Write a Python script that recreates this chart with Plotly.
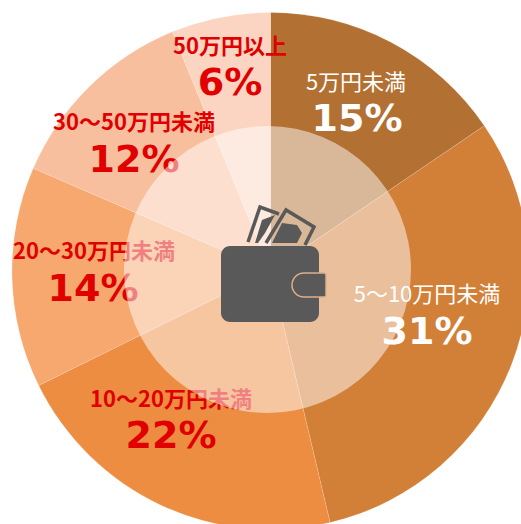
import plotly.graph_objects as go

categories = ["5万円未満", "5～10万円未満", "10～20万円未満", "20～30万円未満", "30～50万円未満", "50万円以上"]
shares = [15.5, 30.8, 21.4, 13.8, 12.3, 6.2]
pct_labels = ["15%", "31%", "22%", "14%", "12%", "6%"]
slice_colors = ["#b37033", "#d27f38", "#ec8d42", "#f7a86e", "#f8bf9f", "#fbd5c2"]
text_colors = ["#ffffff", "#ffffff", "#e00000", "#e00000", "#e00000", "#e00000"]
label_weight = ["normal", "normal", "bold", "bold", "bold", "bold"]
label_pos = [(356, 80), (427, 292), (171, 397), (94, 249), (134, 120), (230, 44)]
pct_pos = [(357, 118), (427, 331), (171, 435), (93, 288), (134, 159), (230, 82)]

W, H = 540, 540
CX, CY, R = 270.5, 271, 258.5
LABEL_FONT = "Noto Sans CJK JP"
PCT_FONT = "DejaVu Sans"
LABEL_SIZE = 22
PCT_SIZE = 38


def px(x):
    return x / W


def py(y):
    return 1 - y / H


def text_pie(text, pos, color, font):
    d = 6
    return go.Pie(
        values=[1], text=[text], textinfo="text", textposition="inside",
        insidetextorientation="horizontal", sort=False,
        marker=dict(colors=["rgba(0,0,0,0)"], line=dict(width=0)),
        textfont=dict(size=LABEL_SIZE, color=color, family=font),
        domain=dict(x=[px(pos[0] - d), px(pos[0] + d)], y=[py(pos[1] + d), py(pos[1] - d)]),
        hoverinfo="skip", showlegend=False,
    )


fig = go.Figure()
fig.add_trace(go.Pie(
    labels=categories, values=shares, sort=False, direction="clockwise", rotation=0,
    textinfo="none", hoverinfo="label+percent",
    marker=dict(colors=slice_colors, line=dict(color="rgba(255,255,255,0.3)", width=0.5)),
    domain=dict(x=[px(CX - R), px(CX + R)], y=[py(CY + R), py(CY - R)]),
    showlegend=False,
))
for i, cat in enumerate(categories):
    t = f"<b>{cat}</b>" if label_weight[i] == "bold" else cat
    fig.add_trace(text_pie(t, label_pos[i], text_colors[i], LABEL_FONT))
    fig.add_trace(text_pie(f'<b><span style="font-size:{PCT_SIZE}px">{pct_labels[i]}</span></b>', pct_pos[i], text_colors[i], PCT_FONT))


def path(points, close=True):
    s = "M " + " L ".join(f"{px(x):.5f},{py(y):.5f}" for x, y in points)
    return s + (" Z" if close else "")


def rrect(x0, y0, x1, y1, r, r_right=None):
    rr = r if r_right is None else r_right
    k = r * 0.45
    kr = rr * 0.45
    return (
        f"M {px(x0 + r):.5f},{py(y0):.5f} L {px(x1 - rr):.5f},{py(y0):.5f} "
        f"C {px(x1 - kr):.5f},{py(y0):.5f} {px(x1):.5f},{py(y0 + kr):.5f} {px(x1):.5f},{py(y0 + rr):.5f} "
        f"L {px(x1):.5f},{py(y1 - rr):.5f} "
        f"C {px(x1):.5f},{py(y1 - kr):.5f} {px(x1 - kr):.5f},{py(y1):.5f} {px(x1 - rr):.5f},{py(y1):.5f} "
        f"L {px(x0 + r):.5f},{py(y1):.5f} "
        f"C {px(x0 + k):.5f},{py(y1):.5f} {px(x0):.5f},{py(y1 - k):.5f} {px(x0):.5f},{py(y1 - r):.5f} "
        f"L {px(x0):.5f},{py(y0 + r):.5f} "
        f"C {px(x0):.5f},{py(y0 + k):.5f} {px(x0 + k):.5f},{py(y0):.5f} {px(x0 + r):.5f},{py(y0):.5f} Z"
    )


GRAY = "#595959"
common = dict(type="path", xref="paper", yref="paper", layer="above")
shapes = [
    dict(type="circle", xref="paper", yref="paper", layer="above",
         x0=px(124), x1=px(411), y0=py(413), y1=py(126),
         fillcolor="rgba(255,255,255,0.5)", line=dict(width=0)),
    # bills
    dict(common, path=path([(248, 242), (260, 207), (279, 214)], close=False),
         line=dict(color=GRAY, width=3.5), fillcolor="rgba(0,0,0,0)"),
    dict(common, path=path([(255, 243), (262, 220), (275, 215), (265, 233), (258, 243)]),
         line=dict(width=0), fillcolor=GRAY),
    dict(common, path=path([(266, 243), (286, 210), (314, 227), (305, 245)], close=False),
         line=dict(color=GRAY, width=3.5), fillcolor="rgba(0,0,0,0)"),
    dict(common, path=path([(272, 243), (282, 223), (297, 225), (302, 233), (297, 243)]),
         line=dict(width=0), fillcolor=GRAY),
    # wallet
    dict(common, path=rrect(221, 246, 319, 322, 9), line=dict(width=0), fillcolor=GRAY),
    dict(common, path=rrect(292, 273, 326, 297, 12, 2), line=dict(color="#dcae8b", width=1.5), fillcolor=GRAY),
]

fig.update_layout(
    width=W, height=H, margin=dict(l=0, r=0, t=0, b=0),
    paper_bgcolor="#ffffff", showlegend=False, shapes=shapes,
    uniformtext=dict(mode="show", minsize=LABEL_SIZE),
)
fig.write_html(
    "out.html",
    config=dict(displayModeBar=False),
    post_script="document.body.style.margin='0';document.documentElement.style.overflow='hidden';document.body.style.overflow='hidden';",
)
